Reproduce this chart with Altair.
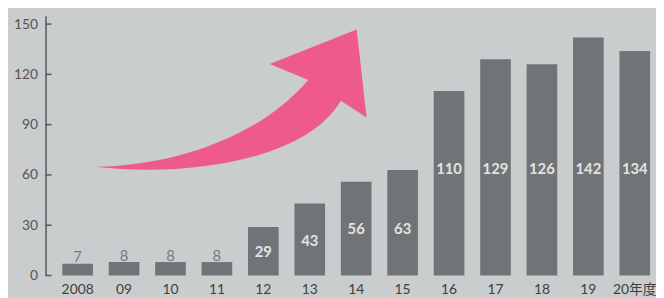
import altair as alt
import pandas as pd

years = ["2008", "09", "10", "11", "12", "13", "14", "15", "16", "17", "18", "19", "20年度"]
values = [7, 8, 8, 8, 29, 43, 56, 63, 110, 129, 126, 142, 134]
y_ticks = [0, 30, 60, 90, 120, 150]

FONT = "Lato, 'Noto Sans CJK JP', sans-serif"
BG = "#c9cdcd"
BAR = "#707477"
AXIS = "#55595b"
PINK = "#ee5a8e"

df = pd.DataFrame({"year": years, "v": values})
ticks_df = pd.DataFrame({"t": y_ticks})

xscale = alt.Scale(domain=years, paddingInner=0.34, paddingOuter=0.223, align=0.81, round=False)
yscale = alt.Scale(domain=[0, 155], nice=False, zero=True)

base = alt.Chart(df).encode(
    x=alt.X("year:N", sort=years, scale=xscale,
            axis=alt.Axis(title=None, labelAngle=0, domain=False, ticks=False,
                          labelPadding=7, labelFontSize=14, labelColor="#404040",
                          labelFont=FONT, labelBound=False, labelOverlap=False)),
)

bars = base.mark_bar(color=BAR).encode(
    y=alt.Y("v:Q", scale=yscale,
            axis=alt.Axis(title=None, values=y_ticks, grid=False, ticks=False,
                          domainColor=AXIS, domainWidth=1.5, labelPadding=8,
                          labelFontSize=14, labelColor="#555", labelFont=FONT)),
)

small = base.transform_filter("datum.v < 20").mark_text(
    baseline="alphabetic", dy=-1.5, fontSize=15, font=FONT, color="#777b7d"
).encode(y=alt.Y("v:Q", scale=yscale), text="v:Q")

big = base.transform_filter("datum.v >= 20").transform_calculate(
    ly="datum.v < 50 ? datum.v / 2 - 0.7 : (datum.v < 100 ? 28 : 63.4)"
).mark_text(
    baseline="middle", fontSize=15, fontWeight="bold", font=FONT, color="#e2e4e4"
).encode(y=alt.Y("ly:Q", scale=yscale), text="v:Q")

tick_rules = alt.Chart(ticks_df).mark_rule(color=AXIS, strokeWidth=1.5).encode(
    y=alt.Y("t:Q", scale=yscale),
    x=alt.value(0),
    x2=alt.value(6),
)

arrow_path = (
    "M 51 153 C 124 152 214 126 266 65 L 227 49 L 315 14 L 325 103 L 299 86 "
    "C 264 146 144 164 51 153 Z"
)
arrow = alt.Chart(pd.DataFrame({"a": [0]})).mark_point(
    shape=arrow_path, size=4, filled=True, fill=PINK, opacity=1, strokeWidth=0
).encode(x=alt.value(0), y=alt.value(0))

chart = alt.layer(bars, small, big, tick_rules, arrow).properties(
    width=616, height=263,
    autosize=alt.AutoSizeParams(type="none"),
    padding={"left": 38, "right": 2, "top": 6, "bottom": 22},
    background=BG,
).configure_view(stroke=None)

chart.save("out.html", embed_options={"renderer": "svg", "actions": False})
